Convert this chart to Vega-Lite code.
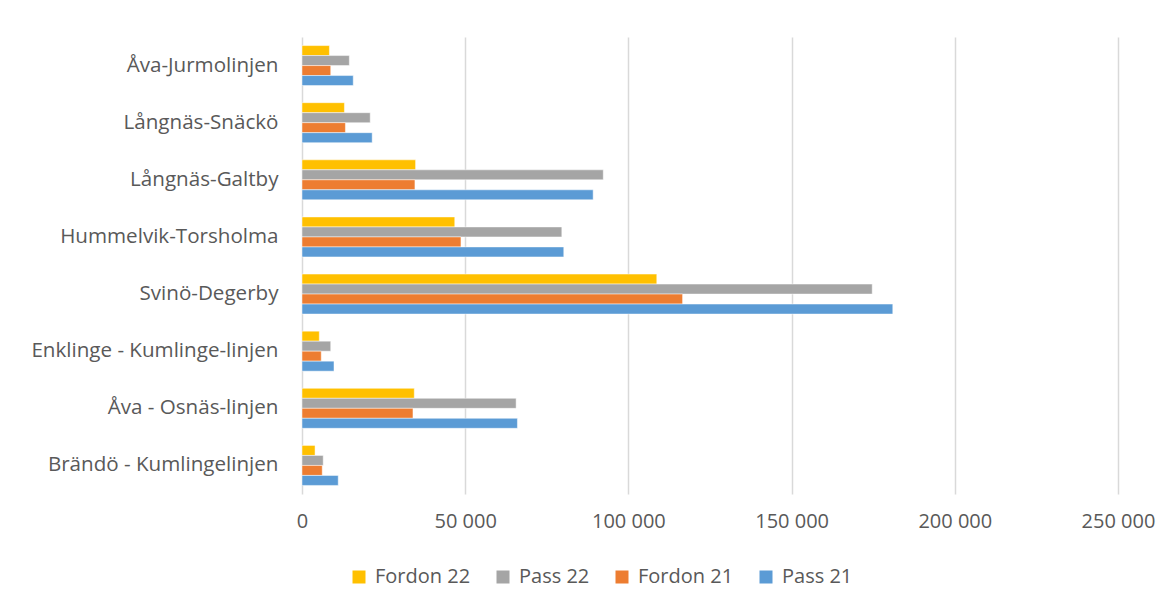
{
  "$schema": "https://vega.github.io/schema/vega-lite/v6.json",
  "autosize": {"type": "none"},
  "padding": {"left": 302, "top": 37, "right": 57, "bottom": 116},
  "width": 816,
  "height": 457,
  "background": "white",
  "config": {
    "font": "Open Sans",
    "view": {"stroke": null},
    "axis": {"labelColor": "#595959", "labelFont": "Open Sans", "titleColor": "#595959"}
  },
  "data": {
    "values": [
      {"linje": "Åva-Jurmolinjen", "serie": "Fordon 22", "v": 8400},
      {"linje": "Åva-Jurmolinjen", "serie": "Pass 22", "v": 14500},
      {"linje": "Åva-Jurmolinjen", "serie": "Fordon 21", "v": 8800},
      {"linje": "Åva-Jurmolinjen", "serie": "Pass 21", "v": 15700},
      {"linje": "Långnäs-Snäckö", "serie": "Fordon 22", "v": 13000},
      {"linje": "Långnäs-Snäckö", "serie": "Pass 22", "v": 20900},
      {"linje": "Långnäs-Snäckö", "serie": "Fordon 21", "v": 13300},
      {"linje": "Långnäs-Snäckö", "serie": "Pass 21", "v": 21500},
      {"linje": "Långnäs-Galtby", "serie": "Fordon 22", "v": 34800},
      {"linje": "Långnäs-Galtby", "serie": "Pass 22", "v": 92300},
      {"linje": "Långnäs-Galtby", "serie": "Fordon 21", "v": 34600},
      {"linje": "Långnäs-Galtby", "serie": "Pass 21", "v": 89200},
      {"linje": "Hummelvik-Torsholma", "serie": "Fordon 22", "v": 46800},
      {"linje": "Hummelvik-Torsholma", "serie": "Pass 22", "v": 79600},
      {"linje": "Hummelvik-Torsholma", "serie": "Fordon 21", "v": 48700},
      {"linje": "Hummelvik-Torsholma", "serie": "Pass 21", "v": 80200},
      {"linje": "Svinö-Degerby", "serie": "Fordon 22", "v": 108700},
      {"linje": "Svinö-Degerby", "serie": "Pass 22", "v": 174700},
      {"linje": "Svinö-Degerby", "serie": "Fordon 21", "v": 116600},
      {"linje": "Svinö-Degerby", "serie": "Pass 21", "v": 181000},
      {"linje": "Enklinge - Kumlinge-linjen", "serie": "Fordon 22", "v": 5300},
      {"linje": "Enklinge - Kumlinge-linjen", "serie": "Pass 22", "v": 8800},
      {"linje": "Enklinge - Kumlinge-linjen", "serie": "Fordon 21", "v": 5900},
      {"linje": "Enklinge - Kumlinge-linjen", "serie": "Pass 21", "v": 9800},
      {"linje": "Åva - Osnäs-linjen", "serie": "Fordon 22", "v": 34400},
      {"linje": "Åva - Osnäs-linjen", "serie": "Pass 22", "v": 65600},
      {"linje": "Åva - Osnäs-linjen", "serie": "Fordon 21", "v": 34000},
      {"linje": "Åva - Osnäs-linjen", "serie": "Pass 21", "v": 66000},
      {"linje": "Brändö - Kumlingelinjen", "serie": "Fordon 22", "v": 4000},
      {"linje": "Brändö - Kumlingelinjen", "serie": "Pass 22", "v": 6500},
      {"linje": "Brändö - Kumlingelinjen", "serie": "Fordon 21", "v": 6200},
      {"linje": "Brändö - Kumlingelinjen", "serie": "Pass 21", "v": 11100}
    ]
  },
  "mark": {"type": "bar", "stroke": "white", "strokeOpacity": 0.6, "strokeWidth": 0.8},
  "encoding": {
    "y": {
      "field": "linje",
      "type": "nominal",
      "sort": ["Åva-Jurmolinjen", "Långnäs-Snäckö", "Långnäs-Galtby", "Hummelvik-Torsholma", "Svinö-Degerby", "Enklinge - Kumlinge-linjen", "Åva - Osnäs-linjen", "Brändö - Kumlingelinjen"],
      "scale": {"paddingInner": 0.3, "paddingOuter": 0.15},
      "axis": {"title": null, "ticks": false, "domain": false, "labelFontSize": 20.6, "labelPadding": 24, "labelLimit": 300}
    },
    "yOffset": {
      "field": "serie",
      "type": "nominal",
      "sort": ["Fordon 22", "Pass 22", "Fordon 21", "Pass 21"],
      "scale": {"paddingInner": 0, "paddingOuter": 0}
    },
    "x": {
      "field": "v",
      "type": "quantitative",
      "scale": {"domain": [0, 250000], "nice": false},
      "axis": {
        "title": null,
        "values": [0, 50000, 100000, 150000, 200000, 250000],
        "labelExpr": "replace(format(datum.value, ','), ',', ' ')",
        "labelFontSize": 20,
        "labelPadding": 17,
        "labelFlush": false,
        "labelOverlap": false,
        "ticks": false,
        "domain": false,
        "grid": true,
        "gridColor": "#d9d9d9",
        "gridWidth": 1.5
      }
    },
    "color": {
      "field": "serie",
      "type": "nominal",
      "sort": ["Fordon 22", "Pass 22", "Fordon 21", "Pass 21"],
      "scale": {"domain": ["Fordon 22", "Pass 22", "Fordon 21", "Pass 21"], "range": ["#FFC000", "#A5A5A5", "#ED7D31", "#5B9BD5"]},
      "legend": {
        "title": null,
        "orient": "none",
        "legendX": 47,
        "legendY": 530,
        "direction": "horizontal",
        "columns": 4,
        "symbolType": "square",
        "symbolSize": 169,
        "symbolStrokeWidth": 0,
        "labelFontSize": 20,
        "labelColor": "#595959",
        "labelFont": "Open Sans",
        "columnPadding": 22,
        "labelOffset": 6
      }
    }
  }
}
